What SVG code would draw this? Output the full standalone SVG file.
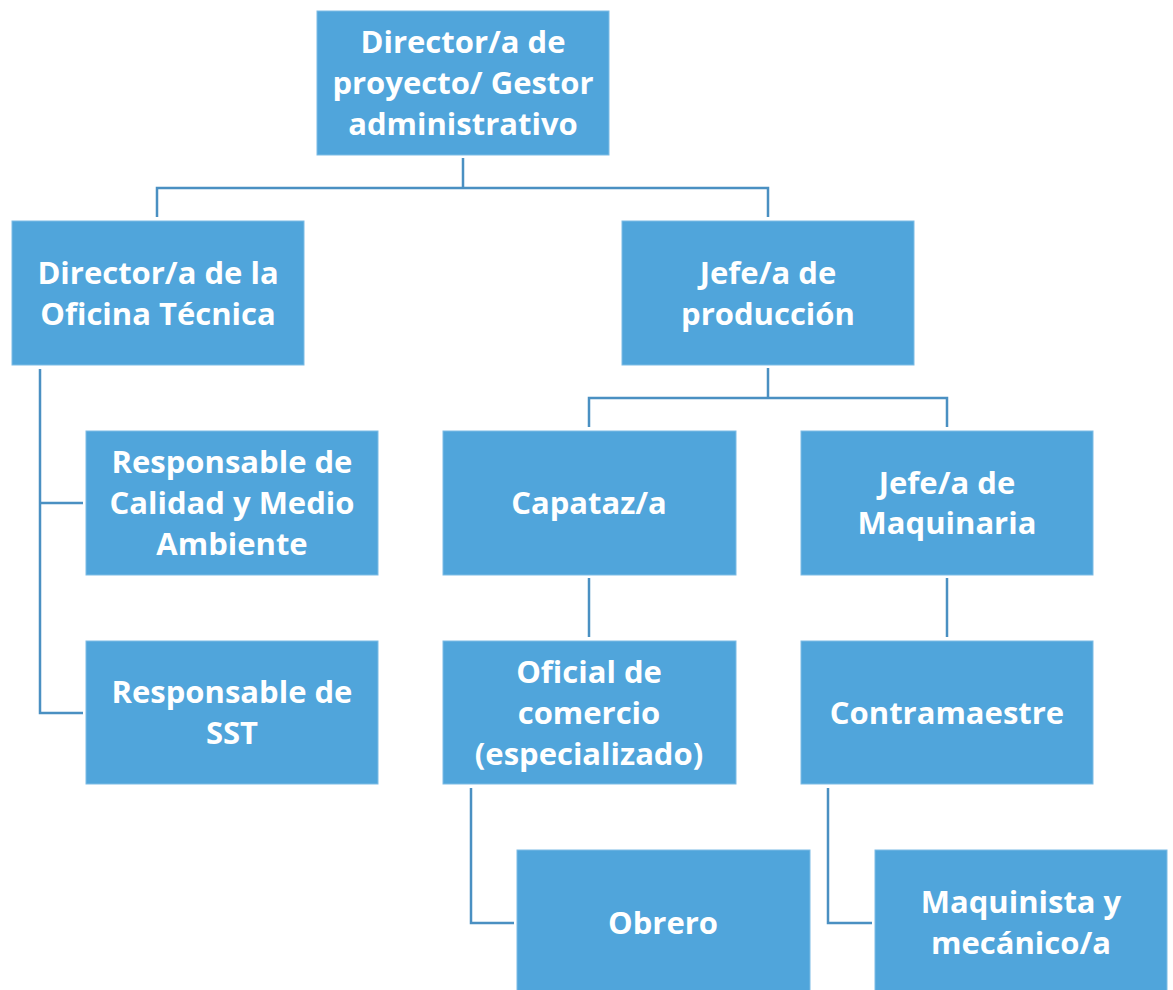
<svg xmlns="http://www.w3.org/2000/svg" width="1173" height="990" viewBox="0 0 1173 990">
<style>
.box{fill:#50A5DB;stroke:#7DBCE5;stroke-width:1}
.t{font-family:"Open Sans","Noto Sans","Liberation Sans",sans-serif;font-weight:bold;font-size:31px;fill:#FFFFFF;text-anchor:middle}
.c{fill:none;stroke:#4A90C2;stroke-width:2.5}
</style>
<rect width="1173" height="990" fill="#FFFFFF"/>
<g id="connectors">
<path class="c" d="M463 158V188M157 217V188H768V217"/>
<path class="c" d="M40 369V713H83M40 503H83"/>
<path class="c" d="M768 368V398M589 427V398H947V427"/>
<path class="c" d="M589 578V637"/>
<path class="c" d="M947 578V637"/>
<path class="c" d="M471 788V923H514"/>
<path class="c" d="M828 788V923H872"/>
</g>
<g id="n_director_proyecto">
<rect class="box" x="317" y="11" width="292" height="144"/>
<text class="t" x="463" y="53">Director/a de</text>
<text class="t" x="463" y="94">proyecto/ Gestor</text>
<text class="t" x="463" y="135">administrativo</text>
</g>
<g id="n_director_oficina">
<rect class="box" x="12" y="221" width="292" height="144"/>
<text class="t" x="158" y="284">Director/a de la</text>
<text class="t" x="158" y="325">Oficina Técnica</text>
</g>
<g id="n_jefe_produccion">
<rect class="box" x="622" y="221" width="292" height="144"/>
<text class="t" x="768" y="284">Jefe/a de</text>
<text class="t" x="768" y="325">producción</text>
</g>
<g id="n_resp_calidad">
<rect class="box" x="86" y="431" width="292" height="144"/>
<text class="t" x="232" y="473">Responsable de</text>
<text class="t" x="232" y="514">Calidad y Medio</text>
<text class="t" x="232" y="555">Ambiente</text>
</g>
<g id="n_resp_sst">
<rect class="box" x="86" y="641" width="292" height="143"/>
<text class="t" x="232" y="703">Responsable de</text>
<text class="t" x="232" y="744">SST</text>
</g>
<g id="n_capataz">
<rect class="box" x="443" y="431" width="293" height="144"/>
<text class="t" x="589" y="514">Capataz/a</text>
</g>
<g id="n_jefe_maquinaria">
<rect class="box" x="801" y="431" width="292" height="144"/>
<text class="t" x="947" y="494">Jefe/a de</text>
<text class="t" x="947" y="534">Maquinaria</text>
</g>
<g id="n_oficial">
<rect class="box" x="443" y="641" width="293" height="143"/>
<text class="t" x="589" y="683">Oficial de</text>
<text class="t" x="589" y="724">comercio</text>
<text class="t" x="589" y="765">(especializado)</text>
</g>
<g id="n_contramaestre">
<rect class="box" x="801" y="641" width="292" height="143"/>
<text class="t" x="947" y="724">Contramaestre</text>
</g>
<g id="n_obrero">
<rect class="box" x="517" y="850" width="293" height="145"/>
<text class="t" x="663" y="934">Obrero</text>
</g>
<g id="n_maquinista">
<rect class="box" x="875" y="850" width="292" height="145"/>
<text class="t" x="1021" y="913">Maquinista y</text>
<text class="t" x="1021" y="954">mecánico/a</text>
</g>
</svg>
